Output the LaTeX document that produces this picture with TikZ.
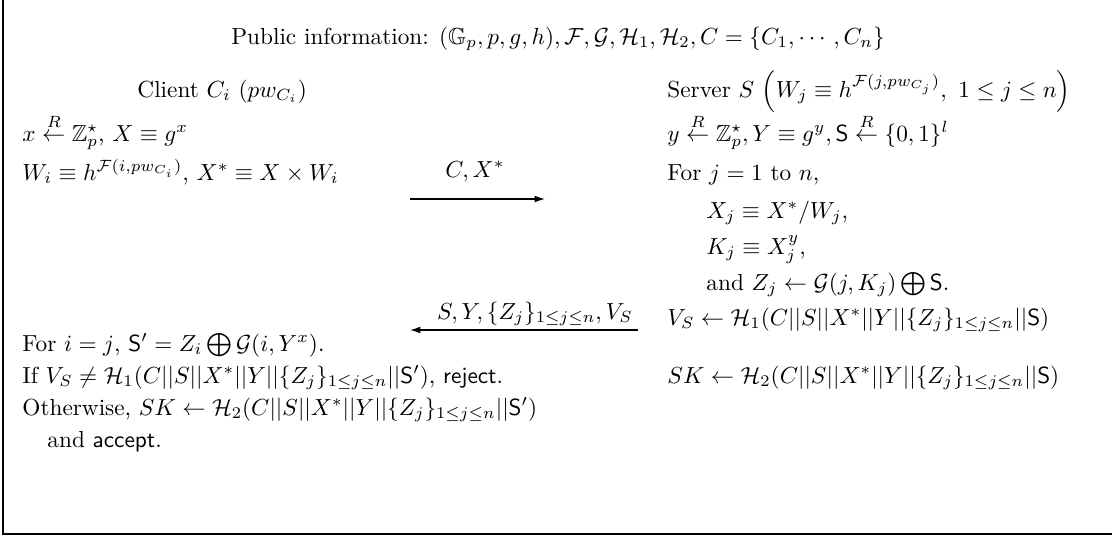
\documentclass[tikz,border=0pt]{standalone}
\usepackage{amsmath,amssymb}
\usetikzlibrary{arrows.meta}
\newcommand{\rndpick}{\overset{R}{\leftarrow}}

\begin{document}
\begin{tikzpicture}[x=0.43pt, y=-0.43pt,
     txt/.style={anchor=base west, inner sep=0pt},
     lbl/.style={anchor=base, inner sep=0pt},
     arr/.style={-{Latex[length=4.5pt,width=3pt]}, semithick}]
     \useasboundingbox (0,0) rectangle (1112,536);
     \draw[thick] (3,0) -- (3,534) -- (1112,534);
     % header
     \node[lbl] (pub) at (558,44) {Public information: $(\mathbb{G}_p,p,g,h),\mathcal{F},\mathcal{G},\mathcal{H}_1,\mathcal{H}_2,C=\{C_1,\cdots,C_n\}$};
     \node[txt] (cl) at (137,97) {Client $C_i$ $(pw_{C_i})$};
     \node[txt] (sv) at (667,97) {Server $S$ $\left(W_j\equiv h^{\mathcal{F}(j,pw_{C_j})},\ 1\le j\le n\right)$};
     % client side
     \node[txt] (c1) at (22,141) {$x\rndpick\mathbb{Z}_p^{\star}$, $X\equiv g^x$};
     \node[txt] (c2) at (22,180) {$W_i\equiv h^{\mathcal{F}(i,pw_{C_i})}$, $X^*\equiv X\times W_i$};
     \node[txt] (c3) at (22,351) {For $i=j$, $\mathsf{S}'=Z_i\bigoplus\mathcal{G}(i,Y^x)$.};
     \node[txt] (c4) at (22,383) {If $V_S\neq\mathcal{H}_1(C||S||X^*||Y||\{Z_j\}_{1\le j\le n}||\mathsf{S}')$, \textsf{reject}.};
     \node[txt] (c5) at (22,415) {Otherwise, $SK\leftarrow\mathcal{H}_2(C||S||X^*||Y||\{Z_j\}_{1\le j\le n}||\mathsf{S}')$};
     \node[txt] (c6) at (47,447) {and \textsf{accept}.};
     % server side
     \node[txt] (s1) at (667,141) {$y\rndpick\mathbb{Z}_p^{\star},Y\equiv g^y,\mathsf{S}\rndpick\{0,1\}^l$};
     \node[txt] (s2) at (667,180) {For $j=1$ to $n$,};
     \node[txt] (s3) at (706,218) {$X_j\equiv X^*/W_j$,};
     \node[txt] (s4) at (706,254) {$K_j\equiv X_j^y$,};
     \node[txt] (s5) at (706,290) {and $Z_j\leftarrow\mathcal{G}(j,K_j)\bigoplus\mathsf{S}$.};
     \node[txt] (s6) at (667,325) {$V_S\leftarrow\mathcal{H}_1(C||S||X^*||Y||\{Z_j\}_{1\le j\le n}||\mathsf{S})$};
     \node[txt] (s7) at (667,383) {$SK\leftarrow\mathcal{H}_2(C||S||X^*||Y||\{Z_j\}_{1\le j\le n}||\mathsf{S})$};
     % messages
     \coordinate (a1s) at (410,199);
     \coordinate (a1e) at (545,199);
     \coordinate (a2s) at (638,330);
     \coordinate (a2e) at (410,330);
     \draw[arr] (a1s) -- (a1e);
     \draw[arr] (a2s) -- (a2e);
     \node[lbl] (m1) at (475,177) {$C,X^*$};
     \node[lbl] (m2) at (535,319) {$S,Y,\{Z_j\}_{1\le j\le n},V_S$};
\end{tikzpicture}
\end{document}
